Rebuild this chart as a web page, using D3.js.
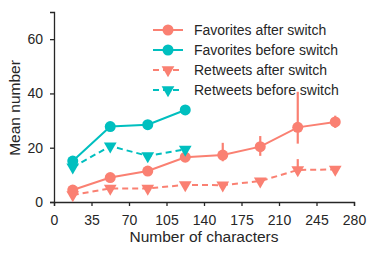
<!DOCTYPE html>
<html><head><meta charset="utf-8">
<script src="https://cdn.jsdelivr.net/npm/d3@7"></script>
<style>body{margin:0;background:#fff}svg{display:block}text{font-family:"Liberation Sans",Arial,sans-serif;fill:#262626}</style>
</head><body>
<script>
const xCenters = [17.5, 52.5, 87.5, 122.5, 157.5, 192.5, 227.5, 262.5];
const favAfter = [4.4, 9.0, 11.4, 16.5, 17.3, 20.4, 27.5, 29.5];
const favAfterErrLo = [3.8, 8.3, 10.7, 15.3, 15.0, 17.0, 21.5, 27.3];
const favAfterErrHi = [5.0, 9.7, 12.1, 17.8, 21.8, 24.3, 40.6, 31.8];
const favBefore = [15.1, 27.8, 28.5, 33.9];
const rtAfter = [2.6, 5.0, 5.0, 6.3, 6.2, 7.7, 11.8, 12.0];
const rtAfterErrLo = [2.2, 4.6, 4.6, 5.8, 5.6, 6.8, 10.0, 11.3];
const rtAfterErrHi = [3.0, 5.4, 5.4, 6.8, 6.8, 8.6, 15.8, 12.7];
const rtBefore = [12.8, 20.6, 17.0, 19.4];
const xTicks = [0, 35, 70, 105, 140, 175, 210, 245, 280];
const yTicks = [0, 20, 40, 60];
const legendLabels = ["Favorites after switch", "Favorites before switch", "Retweets after switch", "Retweets before switch"];

const W = 374, H = 254;
const salmon = "#fa8072", cyan = "#00bfbf";
const svg = d3.select("body").append("svg").attr("width", W).attr("height", H);
const x = d3.scaleLinear().domain([0, 280]).range([54, 354]);
const y = d3.scaleLinear().domain([0, 70]).range([202, 12]);

// axes
const xa = svg.append("g").attr("transform", `translate(0,${y(0)})`)
  .call(d3.axisBottom(x).tickValues(xTicks).tickSize(4).tickPadding(9.5));
const ya = svg.append("g").attr("transform", `translate(${x(0)},0)`)
  .call(d3.axisLeft(y).tickValues(yTicks).tickSize(4).tickPadding(7));
[xa, ya].forEach(a => {
  a.select(".domain").attr("stroke", "#262626").attr("stroke-width", 1.3);
  a.selectAll(".tick line").attr("stroke", "#262626").attr("stroke-width", 1.3);
  a.selectAll("text").style("font-size", "14px").attr("fill", "#262626")
    .style("font-family", '"Liberation Sans",Arial,sans-serif');
});
svg.append("text").attr("x", 204).attr("y", 242).attr("text-anchor", "middle")
  .style("font-size", "15.5px").text("Number of characters");
svg.append("text").attr("transform", "translate(19.5,108) rotate(-90)").attr("text-anchor", "middle")
  .style("font-size", "15.5px").text("Mean number");

const line = d3.line().x(d => x(d[0])).y(d => y(d[1]));
const tri = d3.symbol().type(d3.symbolTriangle).size(70);

function series(vals, color, dashed, marker, lo, hi) {
  const pts = vals.map((v, i) => [xCenters[i], v]);
  const g = svg.append("g");
  if (lo) {
    g.selectAll("line.err").data(pts).join("line")
      .attr("x1", d => x(d[0])).attr("x2", d => x(d[0]))
      .attr("y1", (d, i) => y(lo[i])).attr("y2", (d, i) => y(hi[i]))
      .attr("stroke", color).attr("stroke-width", 2.2);
  }
  g.append("path").attr("d", line(pts)).attr("fill", "none").attr("stroke", color)
    .attr("stroke-width", 2).attr("stroke-dasharray", dashed ? "6,4" : null);
  if (marker === "circle") {
    g.selectAll("circle").data(pts).join("circle")
      .attr("cx", d => x(d[0])).attr("cy", d => y(d[1])).attr("r", 5.5).attr("fill", color);
  } else {
    g.selectAll("path.m").data(pts).join("path").attr("class", "m")
      .attr("d", tri).attr("fill", color)
      .attr("transform", d => `translate(${x(d[0])},${y(d[1])}) rotate(180)`);
  }
}
series(favAfter, salmon, false, "circle", favAfterErrLo, favAfterErrHi);
series(favBefore, cyan, false, "circle");
series(rtAfter, salmon, true, "tri", rtAfterErrLo, rtAfterErrHi);
series(rtBefore, cyan, true, "tri");

// legend
const legColors = [salmon, cyan, salmon, cyan];
const legDash = [false, false, true, true];
const legMarker = ["circle", "circle", "tri", "tri"];
legendLabels.forEach((lab, i) => {
  const ly = 30 + i * 20;
  const g = svg.append("g");
  g.append("line").attr("x1", 153).attr("x2", 183).attr("y1", ly).attr("y2", ly)
    .attr("stroke", legColors[i]).attr("stroke-width", 2).attr("stroke-dasharray", legDash[i] ? "6,4" : null);
  if (legMarker[i] === "circle") g.append("circle").attr("cx", 168).attr("cy", ly).attr("r", 5.5).attr("fill", legColors[i]);
  else g.append("path").attr("d", tri).attr("fill", legColors[i]).attr("transform", `translate(168,${ly}) rotate(180)`);
  g.append("text").attr("x", 194).attr("y", ly + 5).style("font-size", "14px").text(lab);
});
</script>
</body></html>
